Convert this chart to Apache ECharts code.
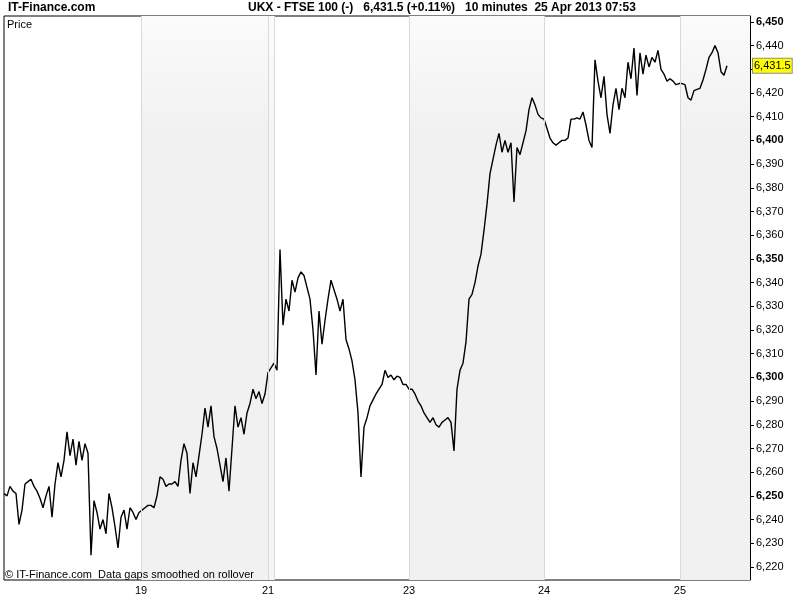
<!DOCTYPE html>
<html><head><meta charset="utf-8">
<script src="https://cdn.jsdelivr.net/npm/echarts@6/dist/echarts.min.js"></script>
<style>html,body{margin:0;padding:0;background:#fff}#c{width:800px;height:600px}</style>
</head><body><div id="c"></div>
<script>
// 10-minute closes, one per bar (bar index = position on the time axis)
const price = [
  6251,6250,6254,6252,6251,6238,6244,6255,6256,6257,
  6254,6252,6249,6245,6250,6254,6241,6255,6264,6258,
  6265,6277,6267,6274,6263,6273,6265,6272,6268,6225,
  6248,6243,6236,6240,6234,6251,6245,6237,6228,6241,
  6244,6236,6245,6243,6240,6243,
  6244,6245,6246,6246,6245,6250,6258,6257,6254,6255,
  6255,6256,6254,6265,6272,6268,6251,6264,
  6258,6267,6276,6287,6279,6288,6275,6270,6263,6256,
  6266,6252,6270,6288,6279,6283,6276,6285,6289,6295,
  6291,6294,6289,6293,6302,6304,6306,6303,6354,
  6322,6333,6328,6341,6336,6342,6344.5,6343,6338,6333,
  6320,6301,6328,6314,6324,6333,6341,6337,6333,6328,
  6333,6316,6312,6307,6299,6285,6258,6279,6283,6288,
  6290.5,6293,6295,6297,6303,6300,6301,6299,6300.5,6300,
  6297,6297,6295,
  6295,6293,6290,6288,6285,6283,6281,6283,6280,6279,
  6281,6282,6283,6281,6269,6295,6303,6306,6315,6333,
  6335,6340,6347,6352,6362,6373,6386,6392,6398,6403,
  6395,6400,6395,6399,6374,6397,6394,6399,6404,6413,
  6418,6415,6411,6409.5,6409,
  6405,6401,6399,6398,6399,6400,6400,6401,6409,6409,
  6409.5,6409,6412,6406.5,6400,6397,6434,6425,6418,6427,
  6411,6403,6415,6422,6413,6422,6418,6433,6426,6439,
  6419,6437,6428,6436,6431,6435,6433,6438,6430,6428,
  6425,6426,6425,6423.5,6424,
  6424,6423.5,6418,6417,6421,6421.5,6422,6425.5,6430,6435,
  6437,6440,6437,6429,6427.5,6431.5
];
// day starts, in bars
const dayLabels = ['19', '21', '23', '24', '25'];
const dayLabelAt = [45.67, 88, 135, 180, 225.33];
const dayBounds = [45.67, 88, 90, 135, 180, 225.33];
const shadedDays = [[45.67, 88], [135, 180], [225.33, 248.67]];
const lightDays = [[88, 90]];
const xMax = 248.67;
const yTicks = [6220,6230,6240,6250,6260,6270,6280,6290,6300,6310,6320,6330,6340,6350,6360,6370,6380,6390,6400,6410,6420,6430,6440,6450];
const yMin = 6214.5, yMax = 6452.5;
const lastPrice = 6431.5;
const symbolName = 'UKX - FTSE 100 (-)';
const changePct = '+0.11%';
const barSize = '10 minutes';
const stamp = '25 Apr 2013 07:53';

const fmt = v => v.toLocaleString('en-US', {maximumFractionDigits: 1});
const fmt1 = v => v.toLocaleString('en-US', {minimumFractionDigits: 1, maximumFractionDigits: 1});
const FONT = "'Liberation Sans', Arial, sans-serif";

const shade = (c1, c2) => ({type: 'linear', x: 0, y: 0, x2: 0, y2: 1,
  colorStops: [{offset: 0, color: c1}, {offset: 0.2, color: c2}, {offset: 1, color: c2}]});

const chart = echarts.init(document.getElementById('c'), null, {renderer: 'canvas'});
chart.setOption({
  animation: false,
  backgroundColor: '#fff',
  textStyle: {fontFamily: FONT},
  title: [
    {text: 'IT-Finance.com', left: 8, top: 2, padding: 0,
     textStyle: {fontSize: 12, fontWeight: 'bold', color: '#000'}},
    {text: symbolName + '   ' + fmt1(lastPrice) + ' (' + changePct + ')   ' + barSize + '  ' + stamp,
     left: 248, top: 2, padding: 0,
     textStyle: {fontSize: 12, fontWeight: 'bold', color: '#000'}},
    {text: 'Price', left: 7, top: 19, padding: 0, textStyle: {fontSize: 11, fontWeight: 'normal', color: '#000'}},
    {text: '© IT-Finance.com  Data gaps smoothed on rollover', left: 5, top: 569, padding: 0,
     textStyle: {fontSize: 11, fontWeight: 'normal', color: '#000'}}
  ],
  grid: {left: 4, right: 50, top: 16, bottom: 20, show: true, borderColor: '#000', borderWidth: 1, backgroundColor: '#fff'},
  xAxis: {
    type: 'value', min: 0, max: xMax,
    axisLine: {show: false, onZero: false}, splitLine: {show: false},
    axisTick: {show: false},
    axisLabel: {
      customValues: dayLabelAt, margin: 5, color: '#000', fontSize: 11,
      formatter: v => { const k = dayLabelAt.findIndex(d => Math.abs(d - v) < 0.01); return k >= 0 ? dayLabels[k] : ''; }
    }
  },
  yAxis: {
    type: 'value', position: 'right', min: yMin, max: yMax,
    axisLine: {show: true, onZero: false, lineStyle: {color: '#000', width: 1}},
    axisTick: {show: true, length: 4, customValues: yTicks, lineStyle: {color: '#000'}},
    splitLine: {show: false},
    axisLabel: {
      customValues: yTicks, margin: 6, color: '#000', fontSize: 11,
      formatter: v => (v % 50 === 0 ? '{b|' + fmt(v) + '}' : fmt(v)),
      rich: {b: {fontWeight: 'bold', fontSize: 11, color: '#000'}}
    }
  },
  series: [{
    type: 'line',
    data: price.map((p, i) => [i, p]),
    showSymbol: false,
    lineStyle: {color: '#000', width: 1.4},
    silent: true,
    markArea: {
      silent: true,
      data: shadedDays.map(([a, b]) => [{xAxis: a, itemStyle: {color: shade('#fbfbfb', '#f1f1f1')}}, {xAxis: b}])
        .concat(lightDays.map(([a, b]) => [{xAxis: a, itemStyle: {color: shade('#fcfcfc', '#f5f5f5')}}, {xAxis: b}]))
    },
    markLine: {
      silent: true, symbol: ['none', 'none'],
      data: dayBounds.map(x => ({xAxis: x, lineStyle: {color: '#d9d9d9', width: 1, type: 'solid'}, label: {show: false}}))
        .concat([{yAxis: lastPrice, lineStyle: {color: 'rgba(0,0,0,0)', width: 1},
          label: {show: true, position: 'end', distance: 3, formatter: fmt1(lastPrice),
            backgroundColor: '#ffff00', borderColor: '#8c8c8c', borderWidth: 1,
            padding: [2, 1, 1, 1], color: '#000', fontSize: 11}}])
    }
  }]
});
</script></body></html>
